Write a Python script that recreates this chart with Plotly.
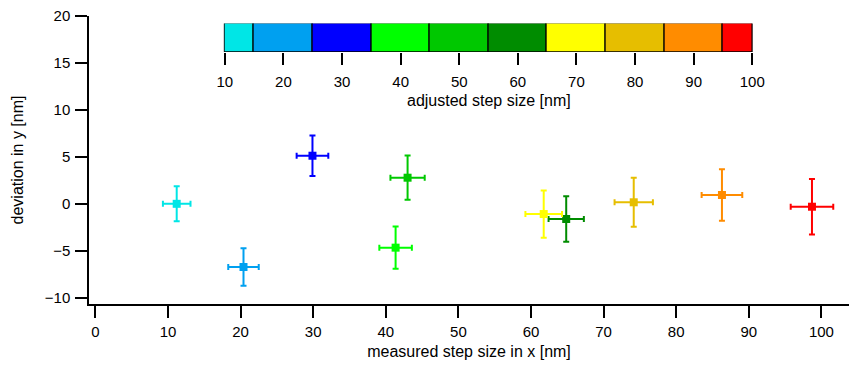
import plotly.graph_objects as go

# Data
adjusted = [10, 20, 30, 40, 50, 60, 70, 80, 90, 100]
colors = ["#00E6E6", "#00A0F0", "#0000FF", "#00FF00", "#00C800",
          "#008C00", "#FFFF00", "#E6BE00", "#FF8C00", "#FF0000"]
x_meas = [11.2, 20.4, 29.9, 41.35, 43.0, 64.85, 61.75, 74.15, 86.3, 98.7]
y_dev = [0.0, -6.73, 5.12, -4.67, 2.78, -1.62, -1.09, 0.16, 0.94, -0.31]
x_err = [1.9, 2.1, 2.18, 2.24, 2.36, 2.43, 2.52, 2.64, 2.8, 2.93]
y_err = [1.86, 1.99, 2.15, 2.24, 2.36, 2.43, 2.52, 2.61, 2.75, 2.95]

# colour scale segments
seg_start = [10, 15, 25, 35, 45, 55, 65, 75, 85, 95]
seg_end = [15, 25, 35, 45, 55, 65, 75, 85, 95, 100]
cbar_ticks = [10, 20, 30, 40, 50, 60, 70, 80, 90, 100]
x_ticks = [0, 10, 20, 30, 40, 50, 60, 70, 80, 90, 100]
y_ticks = [-10, -5, 0, 5, 10, 15, 20]

font = "Arial, Liberation Sans, sans-serif"
tick_font = dict(family=font, size=15, color="black")
fig = go.Figure()

for i in range(len(adjusted)):
    fig.add_trace(go.Scatter(
        x=[x_meas[i]], y=[y_dev[i]], mode="markers",
        marker=dict(symbol="square", size=8, color=colors[i]),
        error_x=dict(type="data", array=[x_err[i]], color=colors[i], thickness=2, width=3),
        error_y=dict(type="data", array=[y_err[i]], color=colors[i], thickness=2, width=3),
        showlegend=False, hoverinfo="x+y", xaxis="x", yaxis="y",
    ))

fig.add_trace(go.Bar(
    y=[0] * len(seg_start), x=[e - s for s, e in zip(seg_start, seg_end)],
    base=seg_start, orientation="h", width=1,
    marker=dict(color=colors, line=dict(color="black", width=1.2)),
    xaxis="x2", yaxis="y2", showlegend=False, hoverinfo="skip",
))

fig.update_layout(
    width=849, height=367,
    margin=dict(l=89, r=0, t=16, b=63, autoexpand=False),
    plot_bgcolor="white", paper_bgcolor="white",
    font=dict(family=font, size=13, color="black"),
    xaxis=dict(
        range=[-0.88, 103.8], domain=[0, 1], tickvals=x_ticks, automargin=False,
        showline=True, linecolor="black", linewidth=1.5, tickfont=tick_font,
        ticks="outside", ticklen=12, tickwidth=1.5, tickcolor="black",
        showgrid=False, zeroline=False, ticklabelstandoff=1,
        title=dict(text="measured step size in x [nm]", standoff=7),
    ),
    yaxis=dict(
        range=[-10.67, 20], domain=[0, 1], tickvals=y_ticks, automargin=False,
        showline=True, linecolor="black", linewidth=1.5, tickfont=tick_font,
        ticks="outside", ticklen=12, tickwidth=1.5, tickcolor="black",
        showgrid=False, zeroline=False, ticklabelstandoff=2,
        title=dict(text="deviation in y [nm]", standoff=17),
    ),
    xaxis2=dict(
        range=[9.8, 100.3], domain=[0.1772, 0.875], anchor="y2", automargin=False,
        tickvals=cbar_ticks, showline=False, tickfont=tick_font,
        ticks="outside", ticklen=12, tickwidth=1.5, tickcolor="black",
        showgrid=False, zeroline=False, ticklabelstandoff=4,
        title=dict(text="adjusted step size [nm]", standoff=5),
    ),
    yaxis2=dict(
        range=[-0.5, 0.5], domain=[0.875, 0.974], anchor="x2", automargin=False,
        showticklabels=False, showgrid=False, zeroline=False, showline=False,
    ),
    bargap=0,
)

fig.write_html("out.html")
